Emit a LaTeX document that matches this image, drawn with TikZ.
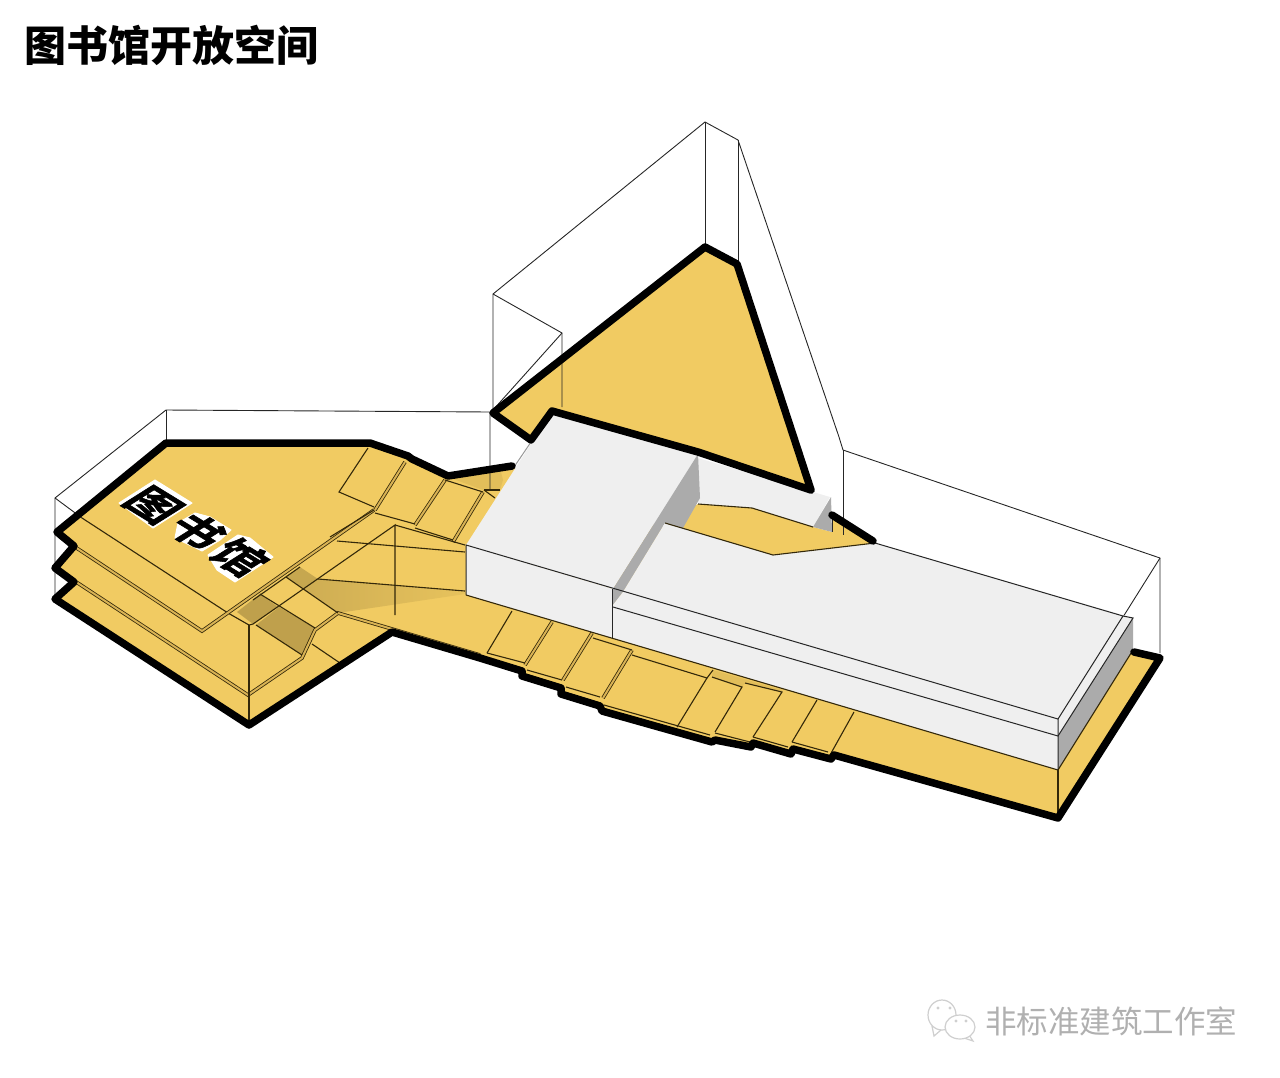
\documentclass[tikz,border=0pt]{standalone}
\usepackage{fontspec}
\newfontfamily\cjk{Noto Sans CJK SC}
\newfontfamily\cjkwide[LetterSpace=12,FakeBold=1.5]{Noto Sans CJK SC Bold}
\usepackage{xcolor}
\definecolor{floorc}{HTML}{F1CB62}
\definecolor{floordk}{HTML}{BFA04C}
\definecolor{floorsh}{HTML}{D8B655}
\definecolor{floorlip}{HTML}{D9B354}
\definecolor{ink}{HTML}{33280A}
\definecolor{wall}{HTML}{EFEFEF}
\definecolor{wallgr}{HTML}{ABABAB}
\definecolor{wmark}{HTML}{CFCFCF}
\tikzset{
  heavy/.style={line width=7.5pt, line join=round, line cap=round},
  wire/.style={line width=0.9pt, black!85},
  edge/.style={line width=1.1pt, ink},
  lip/.style={line width=0.8pt, ink, double=floorlip, double distance=2pt},
  thin edge/.style={line width=1pt, black!85},
  halo/.style={fill=white, draw=white, line width=1pt, line join=round},
}
\begin{document}
\begin{tikzpicture}[x=1pt,y=-1pt]
\useasboundingbox (0,0) rectangle (1280,1077);
\node[font=\cjk\bfseries\fontsize{42}{42}\selectfont, anchor=west, inner sep=0pt] (title) at (24,45) {图书馆开放空间};

% yellow floors
\fill[floorc] (166,443) -- (370,443) -- (408,456) -- (412,459) -- (448,476) -- (512,466) -- (560,500) -- (1133,650) -- (1160,658) -- (1058,818) -- (834,755) -- (831,759) -- (793,749) -- (791,754) -- (753,743) -- (751,747) -- (715,740) -- (712,742) -- (602,711) -- (600,706) -- (561,694) -- (561,688) -- (522,676) -- (522,671) -- (392,632) -- (249,725) -- (55,599) -- (74,582) -- (55,568) -- (74,546) -- (57,532) -- cycle;
\fill[floorc] (531,440) -- (493,413) -- (705,247) -- (737,264) -- (811,490) -- (698,452) -- (552,411) -- cycle;
\fill[floorc] (698,504) -- (752,508) -- (813,527) -- (832,532) -- (832,515) -- (875,543) -- (773,555) -- (665,523) -- cycle;

% shaded patches
\shade[left color=floordk!70!floorc, right color=floorsh!40!floorc] (318,579) -- (465,591) -- (465,594) -- (338,613) -- (303,589) -- cycle;
\fill[floorsh!60!floorc] (448,477) -- (500,468) -- (503,480) -- (500,490) -- (483,490) -- cycle;
\fill[floorsh!60!floorc] (713,670) -- (782,690) -- (780,692) -- (745,683) -- (742,687) -- (712,677) -- cycle;
\fill[floordk] (237,612) -- (260,594) -- (278,607) -- (253,624) -- cycle;
\fill[floordk] (256,625) -- (279,607) -- (315,628) -- (302,655) -- cycle;
\fill[floordk!70!floorsh] (286,577) -- (300,567) -- (318,579) -- (303,589) -- cycle;

% wire frame
\draw[wire] (55,600) -- (55,498) -- (166,410) -- (490,412) -- (490,490);
\draw[wire] (55,498) -- (82,518);
\draw[wire] (166,410) -- (166,443);
\draw[wire] (493,412) -- (493,294) -- (705,122) -- (738,140) -- (839,437) -- (843,450) -- (1160,558) -- (1160,653);
\draw[wire] (493,294) -- (562,333) -- (562,407);
\draw[wire] (562,333) -- (493,410);
\draw[wire] (705,122) -- (705,247);
\draw[wire] (738,140) -- (738,264);
\draw[wire] (843,450) -- (843,535);
\draw[wire] (832,515) -- (832,532);
\draw[wire] (1160,558) -- (1123,617);

% library plates
\draw[edge] (82,518) -- (228,613) -- (249,625) -- (253,624) -- (395,525) -- (395,615);
\draw[lip] (60,537) -- (202,631) -- (374,510);
\draw[lip] (58,570) -- (248,695) -- (302,658) -- (315,630) -- (338,613) -- (480,655);
\draw[edge] (249,625) -- (249,722);
\draw[edge] (337,541) -- (465,552);
\draw[edge] (318,579) -- (465,591);
\draw[edge] (286,577) -- (338,613);
\draw[edge] (260,594) -- (315,628);
\draw[edge] (256,625) -- (302,655);
\draw[edge] (312,644) -- (340,663);
\draw[edge] (300,567) -- (253,600);
\draw[edge] (374,510) -- (330,537);

% upper stair
\draw[edge] (368,448) -- (339,492) -- (374,507);
\draw[lip] (405,462) -- (375,510);
\draw[lip] (445,480) -- (415,525);
\draw[lip] (483,492) -- (453,542);
\draw[edge] (445,480) -- (483,492);
\draw[edge] (484,490) -- (500,490);
\draw[edge] (484,490) -- (495,498);
\draw[edge] (375,513) -- (415,524);
\draw[edge] (415,528) -- (453,540);
\draw[edge] (395,525) -- (465,545);

% lower stair
\draw[edge] (512,611) -- (487,653);
\draw[lip] (552,622) -- (525,665);
\draw[lip] (592,633) -- (563,680);
\draw[lip] (632,650) -- (603,698);
\draw[edge] (593,638) -- (632,650);
\draw[edge] (632,655) -- (707,678) -- (677,727);
\draw[edge] (713,670) -- (707,678);
\draw[edge] (712,677) -- (742,687) -- (715,732);
\draw[edge] (745,683) -- (782,692) -- (753,737);
\draw[edge] (817,700) -- (792,742);
\draw[edge] (854,712) -- (830,755);
\draw[edge] (487,653) -- (525,663);
\draw[edge] (527,670) -- (562,680);
\draw[edge] (566,687) -- (600,697);
\draw[edge] (604,705) -- (710,735);
\draw[edge] (715,733) -- (750,742);
\draw[edge] (753,737) -- (788,747);
\draw[edge] (792,742) -- (828,752);
\draw[edge] (1058,770) -- (1058,818);

% white blocks
\fill[wall] (552,411) -- (698,454) -- (613,589) -- (466,545) -- cycle;
\fill[wall] (466,545) -- (613,589) -- (612,638) -- (466,595) -- cycle;
\fill[wall] (698,458) -- (830,497) -- (813,527) -- (752,508) -- (698,504) -- cycle;
\fill[wallgr] (831,497) -- (832,532) -- (813,527) -- cycle;
\fill[wallgr] (698,454) -- (700,498) -- (683,528) -- (665,523) -- (623,592) -- (613,605) -- (613,589) -- cycle;
\fill[wall] (665,523) -- (773,555) -- (875,543) -- (1133,618) -- (1133,622) -- (1058,770) -- (612,638) -- (613,605) -- (623,592) -- cycle;
\fill[wallgr] (1058,736) -- (1133,618) -- (1133,650) -- (1058,770) -- cycle;

% block lines
\draw[thin edge] (466,595) -- (466,545) -- (1058,719) -- (1058,770);
\draw[thin edge] (613,607) -- (1058,736) -- (1133,618) -- (1123,616);
\draw[thin edge] (612,589) -- (612,638);
\draw[thin edge] (1058,719) -- (1123,616) -- (875,543);
\draw[edge] (466,595) -- (1058,770) -- (1133,650);
\draw[edge] (665,523) -- (773,555) -- (875,543);
\draw[edge] (698,504) -- (752,508) -- (813,527);
\draw[thin edge, black!40] (531,442) -- (512,470);

% heavy outlines
\draw[heavy] (512,466) -- (448,476) -- (412,459) -- (408,456) -- (370,443) -- (166,443) -- (57,532) -- (74,546) -- (55,568) -- (74,582) -- (55,599) -- (249,725) -- (392,632) -- (480,658) -- (522,671) -- (522,676) -- (561,688) -- (561,694) -- (600,706) -- (602,711) -- (712,742) -- (715,740) -- (751,747) -- (753,743) -- (791,754) -- (793,749) -- (831,759) -- (834,755) -- (1058,818) -- (1160,658) -- (1134,652);
\draw[heavy] (811,490) -- (737,264) -- (705,247) -- (493,413) -- (531,440) -- (552,411) -- (698,452) -- (811,490);
\draw[heavy] (832,515) -- (873,541);

% floor label
\draw[halo] (119,503) -- (155,480) -- (192,503) -- (153,528) -- cycle;
\draw[halo] (175,538) -- (178,523) -- (195,513) -- (210,517) -- (231,530) -- (220,540) -- (202,551) -- cycle;
\draw[halo] (208,555) -- (238,535) -- (250,538) -- (273,557) -- (235,582) -- (217,570) -- cycle;
\node[font=\cjkwide\fontsize{51}{51}\selectfont, cm={0.75,-0.46,0.73,0.46,(0,0)}, transform shape, inner sep=0pt] (label) at (197,531) {图书馆};

% watermark
\draw[wmark, line width=1.2pt] (932,1026) -- (934,1036) -- (941,1030);
\draw[wmark, line width=1.2pt, fill=white] (942,1015) ellipse [x radius=14, y radius=15];
\draw[wmark, line width=1.2pt] (969,1035) -- (973,1041) -- (964,1038);
\draw[wmark, line width=1.2pt, fill=white] (960,1027) ellipse [x radius=15, y radius=12];
\fill[wmark] (938,1008) circle (1.6) (950,1008) circle (1.6) (956,1021) circle (1.6) (966,1021) circle (1.6);
\node[font=\cjk\fontsize{31.5}{31.5}\selectfont, text=wmark!85!black, anchor=west, inner sep=0pt] (mark) at (985,1021) {非标准建筑工作室};
\end{tikzpicture}
\end{document}
